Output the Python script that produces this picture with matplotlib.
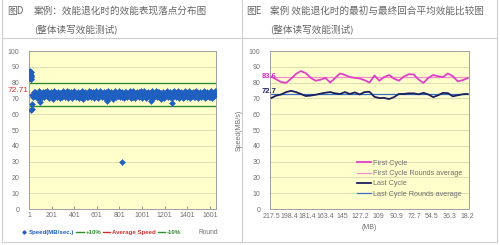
import numpy as np
import matplotlib.pyplot as plt
from matplotlib.lines import Line2D

plt.rcParams['font.family'] = ['Liberation Sans', 'Noto Sans CJK SC', 'DejaVu Sans']

# ---- left chart data (speed per round) ----
early_rounds = list(range(1, 21))
early_speed = [85.2, 83.4, 86.8, 84.1, 82.6, 85.9, 83.8, 87.2, 84.6, 82.9,
               86.1, 83.2, 85.5, 84.0, 82.3, 86.4, 83.6, 85.0, 84.4, 82.1]

outlier_rounds = [22, 24, 27, 97, 695, 820, 1083, 1270]
outlier_speed = [62.8, 63.6, 66.4, 68.0, 68.3, 29.8, 68.1, 67.2]

band_speed = [
    72.4, 70.8, 73.9, 71.6, 74.2, 72.9, 70.3, 73.1, 71.9, 74.8, 72.2, 69.9, 73.5, 71.2, 74.0, 72.7, 70.6, 73.8, 71.4, 72.9,
    74.5, 71.0, 73.3, 70.4, 72.6, 74.1, 71.7, 73.0, 69.8, 72.8, 74.6, 71.3, 73.7, 70.9, 72.3, 74.3, 71.8, 73.2, 70.2, 72.5,
    73.6, 71.1, 74.4, 72.0, 70.7, 73.4, 71.5, 74.9, 72.1, 70.5, 73.9, 71.9, 74.2, 72.6, 70.1, 73.3, 71.6, 74.7, 72.4, 70.9,
    73.1, 71.4, 74.0, 72.8, 70.3, 73.7, 71.2, 74.5, 72.2, 69.7, 73.5, 71.8, 74.3, 72.9, 70.6, 73.0, 71.1, 74.8, 72.5, 70.8,
    73.8, 71.5, 74.1, 72.3, 70.0, 73.6, 71.7, 74.6, 72.7, 70.4, 73.2, 71.3, 74.9, 72.0, 70.7, 73.4, 71.9, 74.2, 72.6, 70.2,
    73.9, 71.0, 74.4, 72.1, 70.5, 73.3, 71.6, 74.0, 72.8, 69.9, 73.7, 71.4, 74.7, 72.4, 70.9, 73.1, 71.8, 74.5, 72.2, 70.6,
    73.5, 71.2, 74.3, 72.9, 70.1, 73.8, 71.5, 74.1, 72.5, 70.8, 73.0, 71.9, 74.6, 72.3, 70.4, 73.6, 71.1, 74.8, 72.7, 70.3,
    73.2, 71.7, 74.2, 72.0, 70.7, 73.9, 71.3, 74.9, 72.6, 70.0, 73.4, 71.8, 74.4, 72.1, 70.5, 73.7, 71.0, 74.0, 72.8, 70.9,
    73.3, 71.6, 74.5, 72.4, 70.2, 73.1, 71.4, 74.7, 72.9, 70.6, 73.8, 71.2, 74.1, 72.2, 69.8, 73.5, 71.9, 74.3, 72.5, 70.4,
    73.0, 71.5, 74.6, 72.7, 70.8, 73.6, 71.1, 74.2, 72.3, 70.1, 73.9, 71.7, 74.8, 72.0, 70.7, 73.2, 71.3, 74.4, 72.6, 70.3,
    73.4, 71.8, 74.0, 72.9, 70.5, 73.7, 71.0, 74.9, 72.1, 70.9, 73.1, 71.6, 74.5, 72.8, 70.2, 73.5, 71.4, 74.1, 72.4, 70.6,
    73.8, 71.2, 74.7, 72.2, 70.0, 73.3, 71.9, 74.3, 72.5, 70.8, 73.6, 71.5, 74.6, 72.9, 70.4, 73.0, 71.7, 74.2, 72.3, 70.7,
    73.9, 71.1, 74.4, 72.6, 70.3, 73.4, 71.8, 74.8, 72.0,
]
band_rounds = np.linspace(29, 1650, len(band_speed))

avg_speed = 72.71
upper_limit = 79.98
lower_limit = 65.44
left_xticks = [1, 201, 401, 601, 801, 1001, 1201, 1401, 1601]

# ---- right chart data ----
first_cycle = [83.7, 82.0, 80.3, 79.8, 82.5, 85.5, 87.3, 86.0, 83.0, 81.2, 81.8, 83.0, 80.0, 83.0,
               85.8, 84.8, 83.5, 83.0, 82.6, 81.5, 80.0, 84.5, 81.2, 83.5, 84.8, 82.5, 81.2, 83.8,
               85.3, 85.2, 82.0, 79.8, 83.0, 84.8, 84.0, 83.5, 85.8, 84.0, 80.8, 81.5, 82.8]
last_cycle = [70.3, 71.8, 72.5, 74.0, 74.8, 74.0, 72.8, 71.5, 71.8, 72.3, 73.0, 73.6, 74.0, 73.2,
              72.8, 74.0, 72.8, 73.8, 72.5, 74.0, 74.2, 71.0, 70.2, 70.3, 69.6, 70.8, 72.8, 72.8,
              73.2, 73.2, 72.6, 73.5, 72.5, 70.8, 72.0, 73.5, 73.3, 71.3, 72.0, 72.6, 72.8]
first_avg = 83.6
last_avg = 72.7
size_labels = ['217.5', '198.4', '181.4', '163.4', '145', '127.2', '109', '90.9',
               '72.7', '54.5', '36.3', '18.2']

W, H = 500, 245
fig = plt.figure(figsize=(5, 2.45), dpi=100)
fig.patch.set_facecolor('white')

def px_rect(x0, y0, x1, y1):
    return [x0 / W, 1 - y1 / H, (x1 - x0) / W, (y1 - y0) / H]

border = '#cfcfcf'
for (x0, y0, x1, y1) in [(2, 0, 2, 242), (242, 0, 242, 242), (497, 0, 497, 242),
                         (2, 38, 497, 38), (2, 242, 497, 242)]:
    fig.add_artist(Line2D([x0 / W, x1 / W], [1 - y0 / H, 1 - y1 / H],
                          color=border, lw=0.8))

cjk = ['Noto Sans CJK SC', 'DejaVu Sans']
hc = '#666666'
fig.text(7 / W, 1 - 11 / H, '图D', fontsize=7, color=hc, family=cjk, va='center')
fig.text(34 / W, 1 - 11 / H, '案例：效能退化时的效能表现落点分布图', fontsize=6.9,
         color=hc, family=cjk, va='center')
fig.text(34 / W, 1 - 29 / H, '(整体读写效能测试)', fontsize=6.9, color=hc,
         family=cjk, va='center')
fig.text(246 / W, 1 - 11 / H, '图E', fontsize=7, color=hc, family=cjk, va='center')
fig.text(270 / W, 1 - 11 / H, '案例 效能退化时的最初与最终回合平均效能比较图',
         fontsize=6.9, color=hc, family=cjk, va='center')
fig.text(270 / W, 1 - 29 / H, '(整体读写效能测试)', fontsize=6.9, color=hc,
         family=cjk, va='center')

bg = '#ffffcc'
tick_col = '#707070'

def style_axes(ax):
    ax.set_facecolor(bg)
    for s in ax.spines.values():
        s.set_color('#a0a0a0')
        s.set_linewidth(0.7)
    ax.set_ylim(0, 100)
    ax.set_yticks(range(0, 101, 10))
    ax.grid(axis='y', color='#d8d8b0', lw=0.6)
    ax.set_axisbelow(True)
    ax.tick_params(axis='y', length=0, pad=7, labelsize=5, colors=tick_col)
    ax.tick_params(axis='x', length=2, width=0.5, pad=2, labelsize=5,
                   colors=tick_col, direction='in')

# ---- left chart ----
ax1 = fig.add_axes(px_rect(29, 51, 216, 209))
style_axes(ax1)
ax1.set_xlim(1, 1655)
ax1.set_xticks(left_xticks)
blue = '#1f5fbf'
ax1.axhline(upper_limit, color='#2e8b2e', lw=1.0, zorder=2)
ax1.axhline(lower_limit, color='#2e8b2e', lw=1.0, zorder=2)
ax1.axhline(avg_speed, color='#d03030', lw=1.0, zorder=2)
for xs, ys in [(band_rounds, band_speed), (early_rounds, early_speed),
               (outlier_rounds, outlier_speed)]:
    ax1.plot(xs, ys, 'D', ms=3.1, color=blue, mec=blue, mew=0.3, zorder=3)
ax1.text(-0.005, avg_speed + 2.5, '72.71', transform=ax1.get_yaxis_transform(),
         ha='right', va='center', fontsize=6, color='#d03030')

handles = [Line2D([], [], ls='', marker='D', ms=1.6, color=blue),
           Line2D([], [], color='#2e8b2e', lw=1.0),
           Line2D([], [], color='#d03030', lw=1.0),
           Line2D([], [], color='#2e8b2e', lw=1.0)]
labels = ['Speed(MB/sec.)', '+10%', 'Average Speed', '-10%']
leg = fig.legend(handles, labels, loc='center left', bbox_to_anchor=(20 / W, 1 - 232 / H),
                 ncol=4, frameon=False, fontsize=4.4, handlelength=1.2,
                 handletextpad=0.25, columnspacing=0.35, borderpad=0,
                 borderaxespad=0)
for t, c in zip(leg.get_texts(), [blue, '#2e8b2e', '#d03030', '#2e8b2e']):
    t.set_color(c)
    t.set_fontweight('bold')
fig.text(218 / W, 1 - 232 / H, 'Round', fontsize=4.8, color=tick_col,
         va='center', ha='right')

# ---- right chart ----
ax2 = fig.add_axes(px_rect(270, 51, 469, 209))
style_axes(ax2)
x = np.arange(len(first_cycle))
ax2.set_xlim(-0.3, len(first_cycle) - 0.7)
ax2.set_xticks(np.linspace(0, len(first_cycle) - 1, len(size_labels)))
ax2.set_xticklabels(size_labels)
ax2.tick_params(axis='x', length=0, pad=3)
ax2.plot(x, first_cycle, color='#e040c8', lw=1.3, label='First Cycle', zorder=3)
ax2.plot(x, [first_avg] * len(x), color='#f490c8', lw=0.9,
         label='First Cycle Rounds average', zorder=2)
ax2.plot(x, last_cycle, color='#1a1f5e', lw=1.3, label='Last Cycle', zorder=3)
ax2.plot(x, [last_avg] * len(x), color='#3a6cc8', lw=0.9,
         label='Last Cycle Rounds average', zorder=2)
ax2.text(0.035, first_avg, '83.6', transform=ax2.get_yaxis_transform(),
         ha='right', va='center', fontsize=5.5, color='#d030c0', fontweight='bold')
ax2.text(0.035, last_avg + 1.5, '72.7', transform=ax2.get_yaxis_transform(),
         ha='right', va='center', fontsize=5.5, color='#1a1f5e', fontweight='bold')
ax2.set_ylabel('Speed(MB/s)', fontsize=5, color=tick_col, labelpad=4)
ax2.set_xlabel('(MB)', fontsize=5, color=tick_col, labelpad=3)
ax2.legend(loc='lower right', bbox_to_anchor=(1.0, 0.03), frameon=False,
           fontsize=5.2, handlelength=2.0, handletextpad=0.3, labelspacing=0.45,
           labelcolor=tick_col)

fig.savefig('out.png', dpi=100, facecolor='white')
